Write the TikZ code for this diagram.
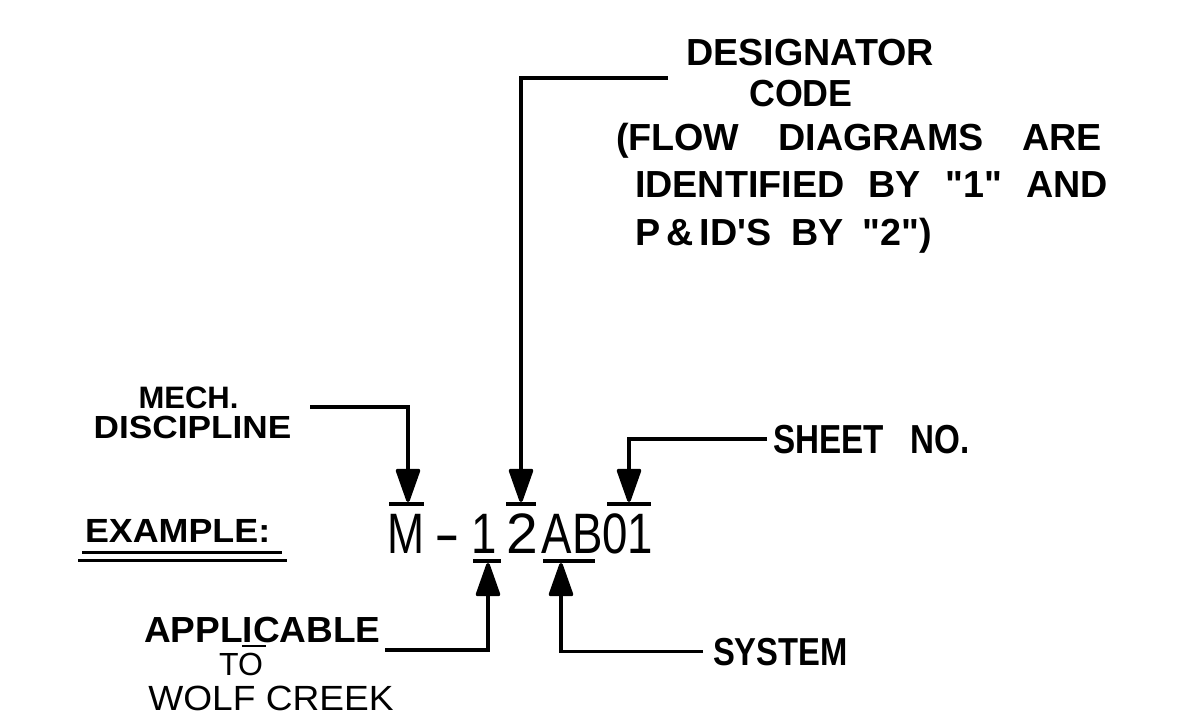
\documentclass[tikz,border=0pt]{standalone}
\usepackage{fontspec}
\usepackage{graphicx}
\setmainfont{Liberation Sans}
\usetikzlibrary{arrows.meta}
\newcommand{\sx}[2]{\scalebox{#1}[1]{#2}}
\newcommand{\dq}{\textquotedbl}
\begin{document}
\begin{tikzpicture}[x=1pt,y=-1pt,
  lblb/.style={inner sep=0pt,outer sep=0pt,font=\bfseries\fontsize{#1}{#1}\selectfont},
  lblr/.style={inner sep=0pt,outer sep=0pt,font=\mdseries\fontsize{#1}{#1}\selectfont},
  conn/.style={line width=3.6pt,line join=miter},
  tip/.style={-{Triangle[width=25pt,length=37pt,round]}},
  tbar/.style={line width=4pt},
  uline/.style={line width=3pt},
  codech/.style={inner sep=0pt,outer sep=0pt,anchor=base,font=\mdseries\fontsize{57}{57}\selectfont}]
\useasboundingbox (0,0) rectangle (1184,721);
\fill[white] (0,0) rectangle (1184,721);

% designator block
\node[lblb=37.7,anchor=base] (des1) at (810,65) {DESIGNATOR};
\node[lblb=37.7,anchor=base] (des2) at (801,106) {\sx{0.95}{CODE}};
\node[lblb=37.7,anchor=base west] (des3) at (616,150) {\makebox[486pt][s]{(FLOW DIAGRAMS ARE}};
\node[lblb=37.7,anchor=base west] (des4) at (635,197) {\makebox[473pt][s]{IDENTIFIED BY \dq 1\dq{} AND}};
\node[lblb=37.7,anchor=base west] (des5) at (635,245) {\makebox[297pt][s]{P\,\&\,ID\textquotesingle S BY \dq 2\dq)}};

% mech discipline
\node[lblb=31,anchor=base] (mech1) at (188.5,408) {MECH.};
\node[lblb=32,anchor=base] (mech2) at (192.5,438) {\sx{1.1}{DISCIPLINE}};

% example
\node[lblb=33.5,anchor=base west] (ex) at (85,542) {\sx{1.07}{EXAMPLE:}};
\draw[uline] (82,552) -- (282,552);
\draw[uline] (78,560) -- (287,560);

% code characters
\node[codech] (cM) at (406,553) {\sx{0.78}{M}};
\node[codech] (cdash) at (447.5,553) {\sx{1.35}{-}};
\node[codech] (c1) at (484,553) {\sx{0.8}{1}};
\node[codech] (c2) at (522,553) {2};
\node[codech] (cAB) at (572,553) {\sx{0.8}{AB}};
\node[codech] (c01) at (628,553) {\sx{0.8}{01}};

% bars
\draw[tbar] (389,504) -- (424,504);
\draw[tbar] (506,504) -- (536,504);
\draw[tbar] (607,504) -- (651,504);
\draw[tbar] (473,561) -- (501,561);
\draw[tbar] (543,561) -- (595,561);

% sheet, system, applicable labels
\node[lblb=40.5,anchor=base west] (sheet) at (773,453) {\sx{0.82}{\makebox[240pt][s]{SHEET NO.}}};
\node[lblb=39,anchor=base west] (sys) at (713,665) {\sx{0.84}{SYSTEM}};
\node[lblb=36.3,anchor=base west] (appl) at (144,642) {\sx{1.02}{APPLICABLE}};
\node[lblr=32,anchor=base] (to) at (241,675) {TO};
\node[lblr=35,anchor=base] (wolf) at (271,710) {\sx{1.06}{WOLF CREEK}};
\draw[line width=2.5pt] (242,646) -- (266,646);

% connector end points
\coordinate (mechEnd) at (310,407);
\coordinate (desEnd) at (668,78);
\coordinate (applEnd) at (385,650);
\coordinate (tM) at (408,502);
\coordinate (t2) at (521,502);
\coordinate (t01) at (629,502);
\coordinate (b1) at (488,563);
\coordinate (bAB) at (561,563);

% connectors
\draw[conn,tip] (mechEnd) -| (tM);
\draw[conn,tip] (desEnd) -| (t2);
\draw[conn,tip] ([xshift=-6pt]sheet.west) -| (t01);
\draw[conn,tip] ([xshift=-10pt]sys.west) -| (bAB);
\draw[conn,tip] (applEnd) -| (b1);
\end{tikzpicture}
\end{document}
